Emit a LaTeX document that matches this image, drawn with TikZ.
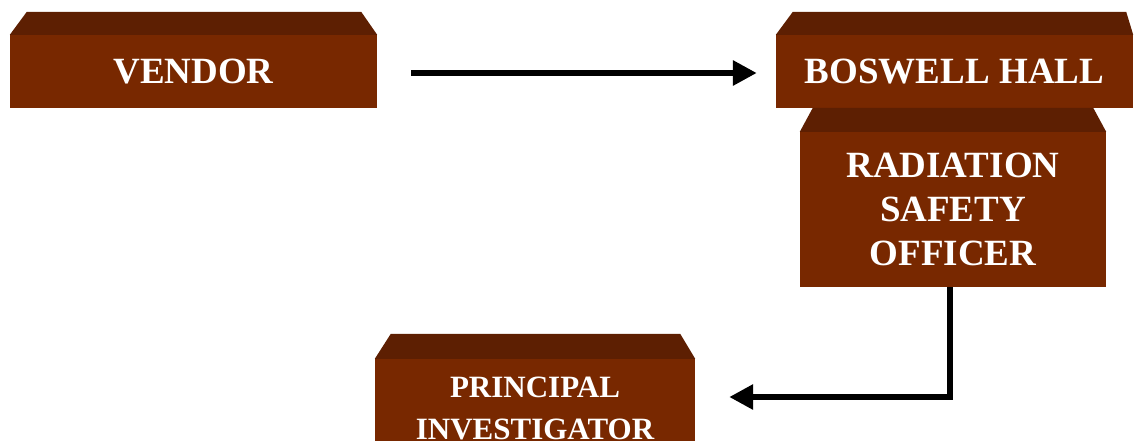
\documentclass[tikz,border=0pt]{standalone}
\usepackage{fontspec}
\setmainfont{Liberation Serif}
\usetikzlibrary{arrows.meta}
\definecolor{frontc}{RGB}{120,40,0}
\definecolor{topc}{RGB}{93,31,2}
\tikzset{
  boxfront/.style={rectangle, fill=frontc, draw=none, inner sep=0pt, text=white,
    font=\fontsize{37}{44}\selectfont\bfseries, align=center},
  bevel/.style={fill=topc, draw=none},
  flow/.style={line width=6pt, -{Triangle[length=24pt,width=24pt]}}
}
\begin{document}
\begin{tikzpicture}[x=1pt,y=-1pt]
\clip (0,0) rectangle (1134,440);
\useasboundingbox (0,0) rectangle (1134,440);
% boxes (front faces)
\node[boxfront, minimum width=367pt, minimum height=73pt] (vendor) at (193.5,71.5) {VENDOR};
\node[boxfront, minimum width=357pt, minimum height=73pt] (boswell) at (954.5,71.5) {BOSWELL HALL};
% bevels of the top row
\fill[bevel] (vendor.north west) -- ([shift={(17,-23)}]vendor.north west) -- ([shift={(-16,-23)}]vendor.north east) -- (vendor.north east) -- cycle;
\fill[bevel] (boswell.north west) -- ([shift={(17,-23)}]boswell.north west) -- ([shift={(-7,-23)}]boswell.north east) -- (boswell.north east) -- cycle;
% radiation safety officer
\node[boxfront, minimum width=306pt, minimum height=155pt] (rso) at (953,209.5) {RADIATION\\SAFETY\\OFFICER};
\fill[bevel] (rso.north west) -- ([shift={(13,-24)}]rso.north west) -- ([shift={(-13,-24)}]rso.north east) -- (rso.north east) -- cycle;
% principal investigator
\node[boxfront, minimum width=320pt, minimum height=98pt, font=\fontsize{31}{42}\selectfont\bfseries] (pi) at (535,408) {PRINCIPAL\\INVESTIGATOR};
\fill[bevel] (pi.north west) -- ([shift={(16,-25)}]pi.north west) -- ([shift={(-15,-25)}]pi.north east) -- (pi.north east) -- cycle;
% connectors
\draw[flow, shorten <=34pt, shorten >=19pt] ([yshift=-1.5pt]vendor.east) -- ([yshift=-1.5pt]boswell.west);
\coordinate (turn) at (950,397);
\draw[flow, shorten >=34pt] (rso.south -| turn) -- (turn) -- (turn -| pi.east);
\end{tikzpicture}
\end{document}
